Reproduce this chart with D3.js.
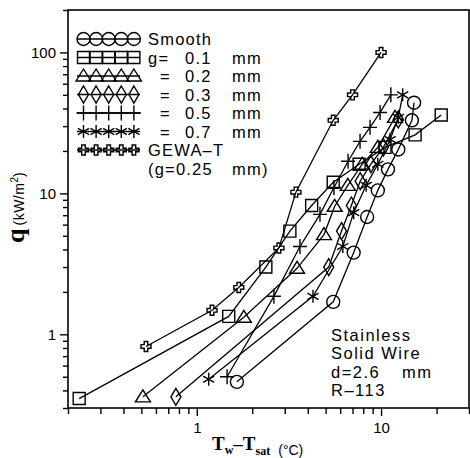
<!DOCTYPE html>
<html>
<head>
<meta charset="utf-8">
<script src="https://cdn.jsdelivr.net/npm/d3@7"></script>
<style>
  body { margin: 0; background: #fff; }
  svg { display: block; }
  text { fill: #000; }
</style>
</head>
<body>
<div id="chart"></div>
<script>
// data (x = Tw - Tsat in degC, q in kW/m2)
const smoothX = [1.65, 5.5, 7.1, 8.4, 9.6, 10.9, 12.4, 14.7, 15.1]
const smoothQ = [0.46, 1.7, 3.8, 6.8, 10.5, 14.8, 20.5, 33, 44]
const g01X = [0.23, 1.49, 2.37, 3.2, 4.2, 5.5, 7.6, 10.5, 15.3, 21.2]
const g01Q = [0.35, 1.34, 3.0, 5.4, 8.2, 12.0, 16.1, 21.2, 26, 36]
const g02X = [0.51, 1.8, 3.5, 4.9, 5.6, 6.6, 7.9, 9.6, 11.9]
const g02Q = [0.36, 1.32, 2.94, 5.1, 8.1, 11.4, 16.1, 21.2, 34.6]
const g03X = [0.77, 5.2, 6.1, 6.9, 7.7, 8.8, 10.3, 12.4]
const g03Q = [0.36, 3.0, 5.4, 8.2, 12.2, 16.1, 21.2, 33.5]
const g05X = [1.46, 2.62, 3.63, 4.66, 5.55, 6.62, 7.69, 8.71, 9.88, 11.3]
const g05Q = [0.5, 1.86, 4.2, 7.1, 11.0, 16.9, 23.4, 29.4, 37.5, 50]
const g07X = [1.16, 4.27, 6.2, 7.1, 8.3, 9.6, 11.2, 12.4, 13.1]
const g07Q = [0.48, 1.86, 4.2, 7.3, 11.4, 16.1, 24.1, 34.6, 50]
const gewaX = [0.53, 1.21, 1.69, 2.79, 3.45, 5.5, 7.0, 10]
const gewaQ = [0.82, 1.48, 2.15, 4.1, 10.2, 33, 50, 100]

const xTicks = [0.2, 0.3, 0.4, 0.5, 0.6, 0.7, 0.8, 0.9, 1, 2, 3, 4, 5, 6, 7, 8, 9, 10, 20, 30]
const yTicks = [0.3, 0.4, 0.5, 0.6, 0.7, 0.8, 0.9, 1, 2, 3, 4, 5, 6, 7, 8, 9, 10,
  20, 30, 40, 50, 60, 70, 80, 90, 100, 200]
const xLabels = [1, 10]
const yLabels = [1, 10, 100]

const series = [
  { label: 'Smooth', marker: 'circle', xs: smoothX, qs: smoothQ },
  { label: 'g= 0.1 mm', marker: 'square', xs: g01X, qs: g01Q },
  { label: '= 0.2 mm', marker: 'triangle', xs: g02X, qs: g02Q },
  { label: '= 0.3 mm', marker: 'diamond', xs: g03X, qs: g03Q },
  { label: '= 0.5 mm', marker: 'plus', xs: g05X, qs: g05Q },
  { label: '= 0.7 mm', marker: 'star', xs: g07X, qs: g07Q },
  { label: 'GEWA–T', marker: 'cross', xs: gewaX, qs: gewaQ },
]

const width = 470
const height = 458
const margin = { top: 10, right: 1, bottom: 50, left: 68 }

const x = d3.scaleLog().domain([0.2, 30]).range([margin.left, width - margin.right])
const y = d3.scaleLog().domain([0.3, 200]).range([height - margin.bottom, margin.top])

const sans = "'Liberation Sans', Arial, Helvetica, sans-serif"
const serif = "'Liberation Serif', 'Times New Roman', serif"

function markerPath(type) {
  switch (type) {
    case 'circle': return 'M6.5,0A6.5,6.5 0 1,1 -6.5,0A6.5,6.5 0 1,1 6.5,0Z'
    case 'square': return 'M-6,-6H6V6H-6Z'
    case 'triangle': return 'M0,-7L7.5,5H-7.5Z'
    case 'diamond': return 'M0,-8.5L5,0L0,8.5L-5,0Z'
    case 'plus': return 'M-7,0H7M0,-7.5V7.5'
    case 'star': return 'M0,-6.5V6.5M-5.6,-3.2L5.6,3.2M-5.6,3.2L5.6,-3.2'
    case 'cross':
      return 'M-1.8,-5H1.8V-1.8H5V1.8H1.8V5H-1.8V1.8H-5V-1.8H-1.8Z'
  }
}

const svg = d3.select('#chart').append('svg')
  .attr('width', width)
  .attr('height', height)

// axes (ticks only, the frame is drawn on its own)
const xAxis = svg.append('g')
  .attr('transform', `translate(0,${y.range()[0]})`)
  .call(d3.axisBottom(x).tickValues(xTicks).tickSize(6).tickPadding(8)
    .tickFormat(d => xLabels.includes(d) ? d : ''))
xAxis.select('.domain').remove()
xAxis.selectAll('.tick line')
  .attr('y2', d => xLabels.includes(d) ? 8 : 6)
  .attr('stroke-width', 1.4)
xAxis.selectAll('text').attr('font-family', sans).attr('font-size', 15)

const yAxis = svg.append('g')
  .attr('transform', `translate(${x.range()[0]},0)`)
  .call(d3.axisLeft(y).tickValues(yTicks).tickSize(6).tickPadding(6)
    .tickFormat(d => yLabels.includes(d) ? d : ''))
yAxis.select('.domain').remove()
yAxis.selectAll('.tick line')
  .attr('x2', d => yLabels.includes(d) ? -8 : -5)
  .attr('stroke-width', 1.4)
yAxis.selectAll('text').attr('font-family', sans).attr('font-size', 15)

svg.append('rect')
  .attr('x', x.range()[0])
  .attr('y', y.range()[1])
  .attr('width', x.range()[1] - x.range()[0])
  .attr('height', y.range()[0] - y.range()[1])
  .attr('fill', 'none')
  .attr('stroke', '#000')
  .attr('stroke-width', 1.6)

// data lines + markers
const line = d3.line().x(d => x(d[0])).y(d => y(d[1]))
const plot = svg.append('g')
series.forEach(s => {
  const pts = s.xs.map((v, i) => [v, s.qs[i]])
  plot.append('path')
    .attr('d', line(pts))
    .attr('fill', 'none')
    .attr('stroke', '#000')
    .attr('stroke-width', 1.3)
  plot.selectAll(null).data(pts).enter().append('path')
    .attr('transform', d => `translate(${x(d[0])},${y(d[1])})`)
    .attr('d', markerPath(s.marker))
    .attr('fill', 'none')
    .attr('stroke', '#000')
    .attr('stroke-width', 1.4)
})

// legend
const legend = svg.append('g').attr('font-family', sans).attr('font-size', 16.5)
  .attr('letter-spacing', 1.2)
const rowY = i => 39 + i * 18.5
series.forEach((s, i) => {
  const ly = rowY(i)
  legend.append('line')
    .attr('x1', 77).attr('x2', 140).attr('y1', ly).attr('y2', ly)
    .attr('stroke', '#000').attr('stroke-width', 1.3)
  d3.range(5).forEach(k => {
    legend.append('path')
      .attr('transform', `translate(${83.5 + k * 12.6},${ly})`)
      .attr('d', markerPath(s.marker))
      .attr('fill', 'none').attr('stroke', '#000').attr('stroke-width', 1.4)
  })
  const base = ly + 6
  if (i === 0 || i === 6) {
    legend.append('text').attr('x', 148).attr('y', base).text(s.label)
  } else {
    const parts = s.label.split(' ')
    legend.append('text').attr('x', i === 1 ? 148 : 160).attr('y', base).text(parts[0])
    legend.append('text').attr('x', 185).attr('y', base).text(parts[1])
    legend.append('text').attr('x', 232).attr('y', base).text(parts[2])
  }
})
legend.append('text').attr('x', 148).attr('y', rowY(7) + 6).text('(g=0.25')
legend.append('text').attr('x', 232).attr('y', rowY(7) + 6).text('mm)')

// note
const note = svg.append('g').attr('font-family', sans).attr('font-size', 16.5)
  .attr('letter-spacing', 1.5)
note.append('text').attr('x', 331).attr('y', 341).text('Stainless')
note.append('text').attr('x', 331).attr('y', 359).text('Solid  Wire')
note.append('text').attr('x', 331).attr('y', 378).text('d=2.6')
note.append('text').attr('x', 402).attr('y', 378).text('mm')
note.append('text').attr('x', 331).attr('y', 396).text('R–113')

// axis titles
const xt = svg.append('text').attr('x', 212).attr('y', 450)
  .attr('font-family', serif).attr('font-weight', 'bold').attr('font-size', 19)
xt.append('tspan').text('T')
xt.append('tspan').attr('font-size', 12).attr('dy', 4).text('w')
xt.append('tspan').attr('dy', -4).text('–T')
xt.append('tspan').attr('font-size', 12).attr('dy', 5).text('sat')
xt.append('tspan').attr('font-family', sans).attr('font-weight', 'normal')
  .attr('font-size', 14).attr('dx', 8).attr('dy', 0).text('(°C)')

const yt = svg.append('text').attr('transform', 'translate(24,243) rotate(-90)')
yt.append('tspan').attr('font-family', serif).attr('font-weight', 'bold')
  .attr('font-size', 26).text('q')
yt.append('tspan').attr('font-family', sans).attr('font-size', 14).attr('dx', 3)
  .attr('letter-spacing', 0.5).text('(kW/m')
yt.append('tspan').attr('font-family', sans).attr('font-size', 10).attr('dy', -6).text('2')
yt.append('tspan').attr('font-family', sans).attr('font-size', 14).attr('dy', 6).text(')')
</script>
</body>
</html>
